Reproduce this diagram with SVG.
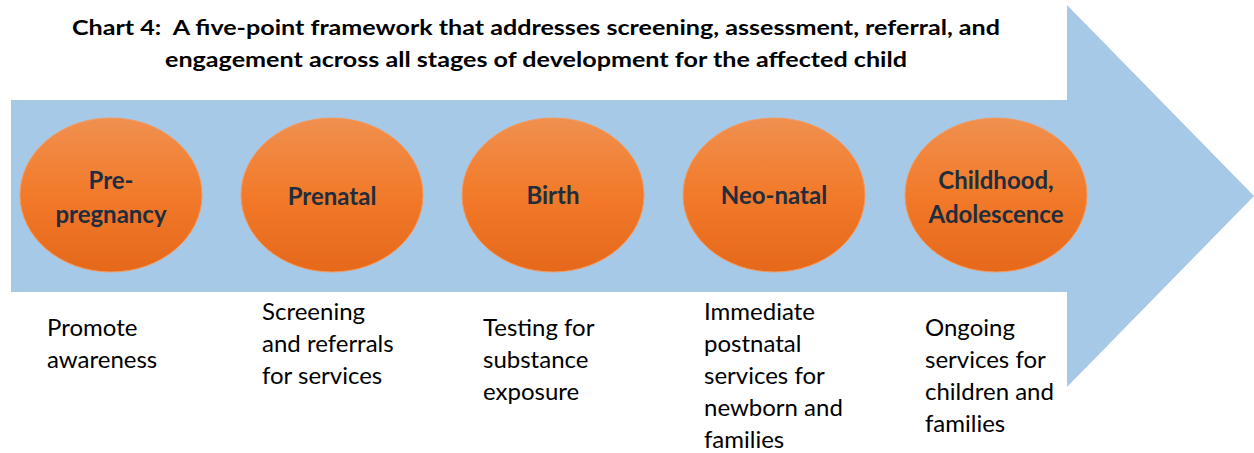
<svg xmlns="http://www.w3.org/2000/svg" width="1254" height="453" viewBox="0 0 1254 453">
<defs>
<linearGradient id="og" x1="0" y1="0" x2="0" y2="1">
<stop offset="0" stop-color="#f0904f"/>
<stop offset="0.5" stop-color="#f27a2a"/>
<stop offset="1" stop-color="#e5681b"/>
</linearGradient>
<style>
.title{font-family:Lato,"Open Sans",sans-serif;font-weight:bold;font-size:20.5px;fill:#000}
.node ellipse{fill:url(#og);stroke:#f39a5e;stroke-width:1}
.lbl{font-family:Lato,"Open Sans",sans-serif;font-weight:bold;font-size:24px;fill:#1f2d3d;text-anchor:middle}
.desc{font-family:Lato,"Open Sans",sans-serif;font-size:24px;fill:#000}
</style>
</defs>
<rect width="1254" height="453" fill="#fff"/>
<g id="arrow">
<polygon points="11,100 1067,100 1067,5 1254,196 1067,387 1067,292 11,292" fill="#a6c9e8"/>
</g>
<g id="title">
<text class="title" x="72" y="35" textLength="928" lengthAdjust="spacingAndGlyphs">Chart 4:&#160; A five-point framework that addresses screening, assessment, referral, and</text>
<text class="title" x="165" y="67" textLength="742" lengthAdjust="spacingAndGlyphs">engagement across all stages of development for the affected child</text>
</g>
<g id="node-prepregnancy" class="node">
<ellipse cx="111" cy="195" rx="91" ry="77"/>
<text class="lbl" x="111" y="189">Pre-</text>
<text class="lbl" x="111" y="223">pregnancy</text>
<text class="desc" x="47" y="336">Promote</text>
<text class="desc" x="47" y="368">awareness</text>
</g>
<g id="node-prenatal" class="node">
<ellipse cx="332" cy="195" rx="91" ry="77"/>
<text class="lbl" x="332" y="205">Prenatal</text>
<text class="desc" x="262" y="320">Screening</text>
<text class="desc" x="262" y="352">and referrals</text>
<text class="desc" x="262" y="384">for services</text>
</g>
<g id="node-birth" class="node">
<ellipse cx="553" cy="195" rx="91" ry="77"/>
<text class="lbl" x="553" y="204">Birth</text>
<text class="desc" x="483" y="336">Testing for</text>
<text class="desc" x="483" y="368">substance</text>
<text class="desc" x="483" y="400">exposure</text>
</g>
<g id="node-neonatal" class="node">
<ellipse cx="774" cy="195" rx="91" ry="77"/>
<text class="lbl" x="774" y="204">Neo-natal</text>
<text class="desc" x="704" y="320">Immediate</text>
<text class="desc" x="704" y="352">postnatal</text>
<text class="desc" x="704" y="384">services for</text>
<text class="desc" x="704" y="416">newborn and</text>
<text class="desc" x="704" y="448">families</text>
</g>
<g id="node-childhood" class="node">
<ellipse cx="996" cy="195" rx="91" ry="77"/>
<text class="lbl" x="996" y="189">Childhood,</text>
<text class="lbl" x="996" y="223">Adolescence</text>
<text class="desc" x="925" y="336">Ongoing</text>
<text class="desc" x="925" y="368">services for</text>
<text class="desc" x="925" y="400">children and</text>
<text class="desc" x="925" y="432">families</text>
</g>
<g id="connectors"/>
</svg>
